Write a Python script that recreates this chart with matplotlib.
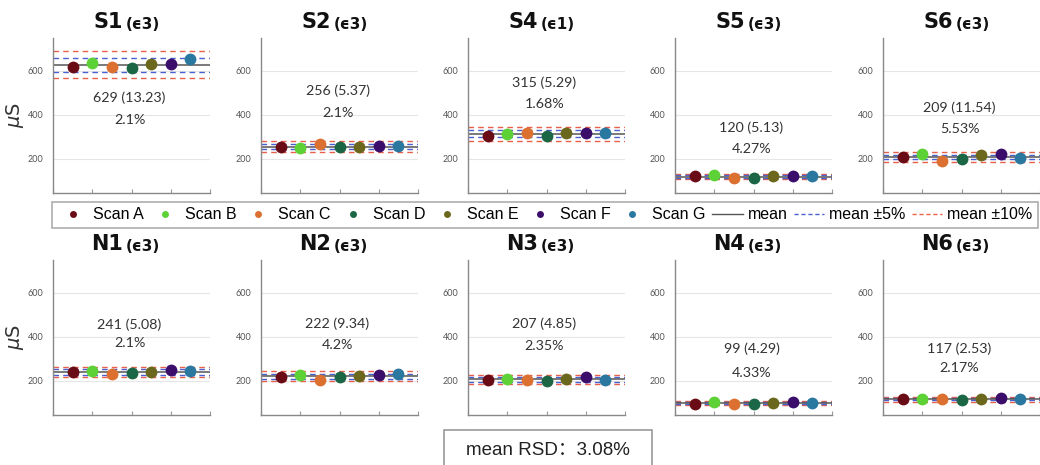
import matplotlib
matplotlib.use("Agg")
import matplotlib.pyplot as plt
from matplotlib.lines import Line2D
from matplotlib.patches import Rectangle

# ---------------- data ----------------
panel_names = ["S1", "S2", "S4", "S5", "S6", "N1", "N2", "N3", "N4", "N6"]
panel_eps = ["(ϵ3)", "(ϵ3)", "(ϵ1)", "(ϵ3)", "(ϵ3)", "(ϵ3)", "(ϵ3)", "(ϵ3)", "(ϵ3)", "(ϵ3)"]
scan_labels = ["Scan A", "Scan B", "Scan C", "Scan D", "Scan E", "Scan F", "Scan G"]
scan_a = [620, 254, 306, 121, 210, 240, 220, 204, 96, 118]
scan_b = [636, 248, 314, 127, 222, 245, 229, 210, 103, 116]
scan_c = [620, 266, 317, 112, 192, 233, 205, 206, 93, 116]
scan_d = [615, 254, 306, 115, 200, 236, 217, 200, 95, 113]
scan_e = [630, 254, 318, 121, 216, 240, 222, 207, 100, 117]
scan_f = [632, 257, 317, 121, 222, 248, 229, 216, 105, 121]
scan_g = [655, 257, 320, 123, 205, 245, 232, 206, 101, 118]
mean_values = [629, 256, 315, 120, 209, 241, 222, 207, 99, 117]
sd_labels = ["13.23", "5.37", "5.29", "5.13", "11.54", "5.08", "9.34", "4.85", "4.29", "2.53"]
rsd_labels = ["2.1%", "2.1%", "1.68%", "4.27%", "5.53%", "2.1%", "4.2%", "2.35%", "4.33%", "2.17%"]
mean_rsd_label = "3.08%"
y_ticks = [200, 400, 600]

# ---------------- style / layout ----------------
scan_colors = ["#6a0c16", "#5dd236", "#dc7030", "#1b6644", "#6b681e", "#3a0e6a", "#2a78a0"]
c_mean = "#555555"
c_5 = "#4a5fd0"
c_10 = "#e8604a"
text_y1 = [480, 512, 548, 343, 434, 457, 462, 462, 345, 348]
text_y2 = [375, 407, 452, 247, 338, 371, 363, 359, 237, 258]

W, H = 1040, 465
fig = plt.figure(figsize=(W / 100, H / 100), dpi=100)

lefts = [53, 261, 468, 675, 883]
row_top = [38, 260]
row_bot = [193, 415]
ax_w = 157

scans = [scan_a, scan_b, scan_c, scan_d, scan_e, scan_f, scan_g]
xpos = list(range(1, 8))

for i, name in enumerate(panel_names):
    r, c = divmod(i, 5)
    ax = fig.add_axes([lefts[c] / W, 1 - row_bot[r] / H, ax_w / W, (row_bot[r] - row_top[r]) / H])
    ax.set_xlim(0, 8)
    ax.set_ylim(45, 750)
    for yt in y_ticks:
        ax.axhline(yt, color="#e6e6e6", lw=0.8, zorder=0)
    m = mean_values[i]
    for f, col in [(0.10, c_10), (0.05, c_5)]:
        ax.axhline(m * (1 + f), color=col, lw=1.0, ls=(0, (4, 3)), zorder=1)
        ax.axhline(m * (1 - f), color=col, lw=1.0, ls=(0, (4, 3)), zorder=1)
    ax.axhline(m, color=c_mean, lw=1.1, zorder=2)
    for k, s in enumerate(scans):
        ax.plot([xpos[k]], [s[i]], "o", color=scan_colors[k], markersize=8.5,
                markeredgewidth=0, zorder=3)
    ax.text(3.9, text_y1[i], f"{m} ({sd_labels[i]})", ha="center", va="center",
            fontsize=10.3, family="Lato", color="#333333")
    ax.text(3.9, text_y2[i], rsd_labels[i], ha="center", va="center",
            fontsize=10.3, family="Lato", color="#333333")
    ax.set_xticks([0, 2, 4, 6, 8])
    ax.set_xticklabels([])
    ax.set_yticks(y_ticks)
    ax.tick_params(axis="x", direction="in", length=3, color="#999999")
    ax.tick_params(axis="y", length=0, pad=7, labelsize=6.5, labelcolor="#555555")
    for lab in ax.get_yticklabels():
        lab.set_family("Lato")
    for sp in ["top", "right"]:
        ax.spines[sp].set_visible(False)
    for sp in ["left", "bottom"]:
        ax.spines[sp].set_color("#888888")
        ax.spines[sp].set_linewidth(1.0)
    t1 = ax.annotate(name, xy=(0.5, 1), xycoords="axes fraction", xytext=(-6, 4.5),
                     textcoords="offset points", ha="right", va="bottom",
                     fontsize=15, fontweight="bold", color="#111111")
    ax.annotate(panel_eps[i], xy=(1, 0), xycoords=t1, xytext=(2, 0),
                textcoords="offset points", ha="left", va="bottom",
                fontsize=11, fontweight="bold", color="#111111")
    if c == 0:
        ax.set_ylabel(r"$\mu$S", fontsize=14, color="#333333")
        ax.yaxis.set_label_coords(-0.175, 0.5)

# legend
handles = [Line2D([], [], marker="o", ls="none", color=col, markersize=5, markeredgewidth=0)
           for col in scan_colors]
handles += [Line2D([], [], color=c_mean, lw=1.0),
            Line2D([], [], color=c_5, lw=1.0, ls=(0, (3, 2))),
            Line2D([], [], color=c_10, lw=1.0, ls=(0, (3, 2)))]
labels = scan_labels + ["mean", "mean ±5%", "mean ±10%"]
leg = fig.legend(handles, labels, loc="lower left",
                 bbox_to_anchor=(52 / W, 1 - 228 / H, 986 / W, 31 / H),
                 mode="expand", ncol=10, handlelength=1.9,
                 handletextpad=0.3, columnspacing=0.3, borderpad=0.35,
                 borderaxespad=0, frameon=True, fancybox=False,
                 prop={"family": "Liberation Sans", "size": 11.5})
leg.get_frame().set_edgecolor("#999999")
leg.get_frame().set_linewidth(1.2)

# mean RSD box
fig.patches.append(Rectangle((444 / W, -0.05), 208 / W, 0.05 + 1 - 430 / H,
                             transform=fig.transFigure, fill=False,
                             edgecolor="#999999", lw=1.2))
fig.text(548 / W, 1 - 450 / H, "mean RSD：" + mean_rsd_label, ha="center", va="center",
         fontsize=13.5, family=["Liberation Sans", "Noto Sans CJK SC"], color="#222222")

fig.savefig("out.png", dpi=100)
